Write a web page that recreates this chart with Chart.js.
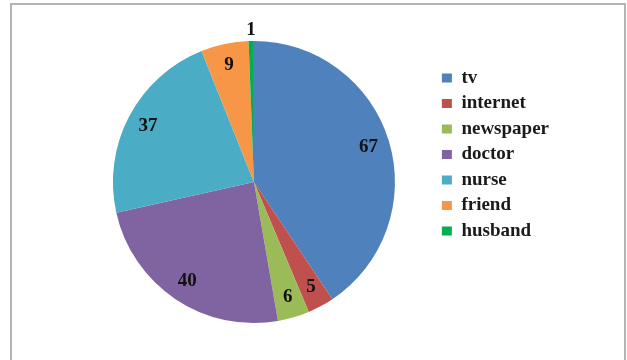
<!DOCTYPE html>
<html>
<head>
<meta charset="utf-8">
<script src="https://cdn.jsdelivr.net/npm/chart.js@4"></script>
<style>
  body { margin: 0; background: #fff; }
  #frame {
    position: absolute; left: 10px; top: 3px; width: 616px; height: 400px;
    border: 2px solid #b4b4b4; box-sizing: border-box;
  }
  #wrap { position: absolute; left: 0; top: 0; width: 627px; height: 360px; }
</style>
</head>
<body>
<div id="frame"></div>
<div id="wrap"><canvas id="pieChart"></canvas></div>
<script>
  // sources of information
  var labels = ["tv", "internet", "newspaper", "doctor", "nurse", "friend", "husband"];
  var counts = [67, 5, 6, 40, 37, 9, 1];
  var colors = ["#4F81BD", "#C0504D", "#9BBB59", "#8064A2", "#4BACC6", "#F79646", "#00B050"];

  // numbers on the slices, tiny slices get the label outside
  var sliceLabels = {
    id: "sliceLabels",
    afterDatasetsDraw: function (chart) {
      var ctx = chart.ctx;
      var meta = chart.getDatasetMeta(0);
      var total = counts.reduce(function (a, b) { return a + b; }, 0);
      ctx.save();
      ctx.font = "bold 19px 'Liberation Serif', 'Times New Roman', serif";
      ctx.fillStyle = "#111";
      ctx.textAlign = "center";
      ctx.textBaseline = "middle";
      meta.data.forEach(function (arc, i) {
        var p = arc.getProps(["x", "y", "startAngle", "endAngle", "outerRadius"], true);
        var mid = (p.startAngle + p.endAngle) / 2;
        var f = counts[i] / total < 0.02 ? 1.08 : 0.85;
        ctx.fillText(counts[i], p.x + Math.cos(mid) * p.outerRadius * f, p.y + Math.sin(mid) * p.outerRadius * f);
      });
      ctx.restore();
    },
  };

  var ctx = document.getElementById("pieChart").getContext("2d");

  var pieChart = new Chart(ctx, {
    type: "pie",
    data: {
      labels: labels,
      datasets: [
        {
          data: counts,
          backgroundColor: colors,
          borderWidth: 0,
        },
      ],
    },
    options: {
      responsive: true,
      maintainAspectRatio: false,
      animation: false,
      layout: {
        padding: { left: 72.5, right: 68, top: 41, bottom: 37 },
      },
      plugins: {
        legend: {
          display: true,
          position: "right",
          align: "start",
          title: { display: true, text: "", font: { size: 1 }, padding: { top: 19.8, bottom: 0 } },
          labels: {
            boxWidth: 10,
            boxHeight: 9,
            padding: 6.5,
            color: "#1a1a1a",
            font: { family: "'Liberation Serif', 'Times New Roman', serif", size: 19, weight: "bold" },
          },
        },
        tooltip: { enabled: false },
      },
    },
    plugins: [sliceLabels],
  });
</script>
</body>
</html>
